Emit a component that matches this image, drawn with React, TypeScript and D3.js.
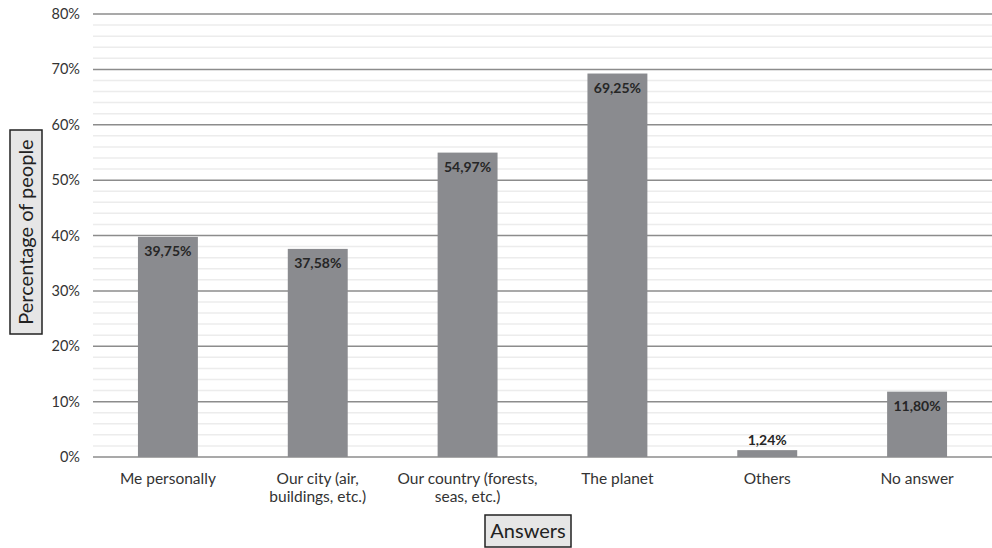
import React, { useRef, useEffect } from 'react';
import * as d3 from 'd3';

const categories = ['Me personally', 'Our city (air,\nbuildings, etc.)', 'Our country (forests,\nseas, etc.)', 'The planet', 'Others', 'No answer'];
const values = [39.75, 37.58, 54.97, 69.25, 1.24, 11.8];
const majorTicks = [0, 10, 20, 30, 40, 50, 60, 70, 80];
const minorTicks = d3.range(0, 80, 2).filter((v) => v % 10 !== 0);

const W = 992;
const H = 548;
const FONT = 'Lato, "Open Sans", sans-serif';

const App: React.FC = () => {
  const svgRef = useRef<SVGSVGElement>(null);

  useEffect(() => {
    if (!svgRef.current) return;
    const svg = d3.select(svgRef.current);
    svg.selectAll('*').remove();

    const margin = { top: 14, right: 0, bottom: 91, left: 93 };
    const x = d3
      .scaleBand<string>()
      .domain(categories)
      .range([margin.left, W - margin.right])
      .paddingInner(0.6)
      .paddingOuter(0.3);
    const y = d3.scaleLinear().domain([0, 80]).range([H - margin.bottom, margin.top]);

    // minor grid
    svg
      .append('g')
      .selectAll('line')
      .data(minorTicks)
      .join('line')
      .attr('x1', margin.left)
      .attr('x2', W - margin.right)
      .attr('y1', (d) => y(d))
      .attr('y2', (d) => y(d))
      .attr('stroke', '#ececec')
      .attr('stroke-width', 1.5);

    // major grid
    svg
      .append('g')
      .selectAll('line')
      .data(majorTicks)
      .join('line')
      .attr('x1', margin.left)
      .attr('x2', W - margin.right)
      .attr('y1', (d) => y(d))
      .attr('y2', (d) => y(d))
      .attr('stroke', '#8c8c8c')
      .attr('stroke-width', 1.5);

    // y tick labels
    svg
      .append('g')
      .selectAll('text')
      .data(majorTicks)
      .join('text')
      .attr('x', 80)
      .attr('y', (d) => y(d) + 5)
      .attr('text-anchor', 'end')
      .attr('fill', '#333')
      .style('font-size', '14.5px')
      .style('font-family', FONT)
      .text((d) => `${d}%`);

    // bars
    svg
      .append('g')
      .selectAll('rect')
      .data(values)
      .join('rect')
      .attr('x', (_, i) => x(categories[i])!)
      .attr('y', (d) => y(d))
      .attr('width', x.bandwidth())
      .attr('height', (d) => y(0) - y(d))
      .attr('fill', '#8a8b8f');

    // value labels
    svg
      .append('g')
      .selectAll('text')
      .data(values)
      .join('text')
      .attr('x', (_, i) => x(categories[i])! + x.bandwidth() / 2)
      .attr('y', (d) => (d < 5 ? y(d) - 5 : y(d) + 19))
      .attr('text-anchor', 'middle')
      .attr('fill', '#262626')
      .style('font-size', '14px')
      .style('font-weight', 'bold')
      .style('font-family', FONT)
      .text((d) => d.toFixed(2).replace('.', ',') + '%');

    // category labels
    const cat = svg
      .append('g')
      .selectAll('text')
      .data(categories)
      .join('text')
      .attr('x', (d) => x(d)! + x.bandwidth() / 2)
      .attr('y', 484)
      .attr('text-anchor', 'middle')
      .attr('fill', '#333')
      .style('font-size', '15.5px')
      .style('font-family', FONT);
    cat.each(function (d) {
      const t = d3.select(this);
      d.split('\n').forEach((line, j) => {
        t.append('tspan')
          .attr('x', t.attr('x'))
          .attr('dy', j === 0 ? 0 : 18)
          .text(line);
      });
    });

    // y axis title box
    const yTitle = svg.append('g').attr('transform', 'translate(26,232) rotate(-90)');
    yTitle
      .append('rect')
      .attr('x', -102)
      .attr('y', -16)
      .attr('width', 204)
      .attr('height', 32)
      .attr('fill', '#e6e6e6')
      .attr('stroke', '#222')
      .attr('stroke-width', 1.5);
    yTitle
      .append('text')
      .attr('x', 0)
      .attr('y', 7)
      .attr('text-anchor', 'middle')
      .attr('fill', '#222')
      .style('font-size', '20px')
      .style('font-family', FONT)
      .text('Percentage of people');

    // x axis title box
    const xTitle = svg.append('g').attr('transform', 'translate(528,531)');
    xTitle
      .append('rect')
      .attr('x', -43)
      .attr('y', -16)
      .attr('width', 86)
      .attr('height', 32)
      .attr('fill', '#e6e6e6')
      .attr('stroke', '#222')
      .attr('stroke-width', 1.5);
    xTitle
      .append('text')
      .attr('x', 0)
      .attr('y', 7)
      .attr('text-anchor', 'middle')
      .attr('fill', '#222')
      .style('font-size', '20px')
      .style('font-family', FONT)
      .text('Answers');
  }, []);

  return (
    <svg
      ref={svgRef}
      width={W}
      height={H}
      style={{ position: 'absolute', left: 0, top: 0, background: '#fff' }}
    />
  );
};

export default App;
